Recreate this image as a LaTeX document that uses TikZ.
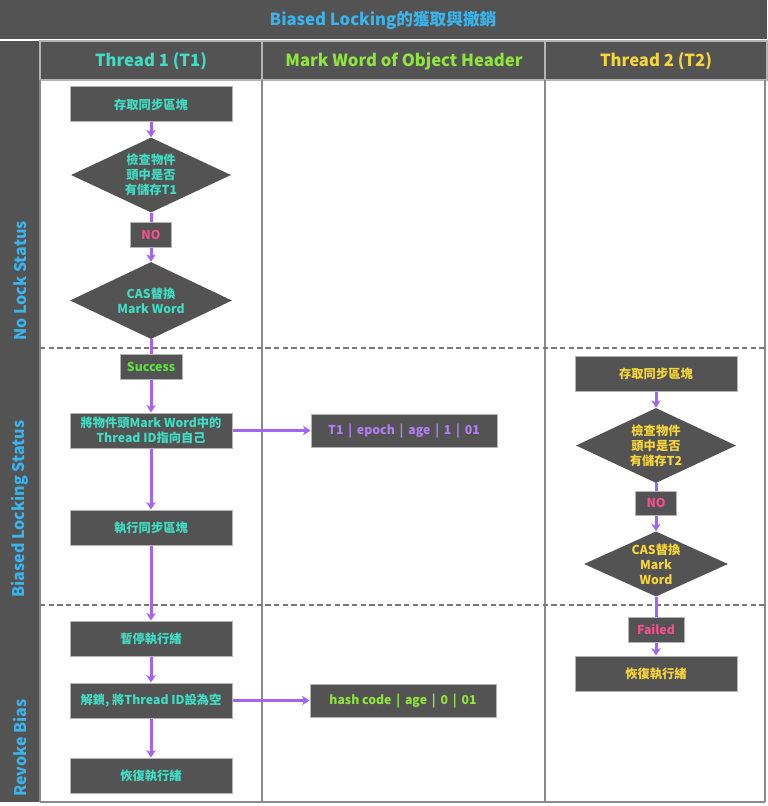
\documentclass[tikz,border=0pt]{standalone}
\usepackage{fontspec}
\setmainfont{Noto Sans CJK TC}
\usetikzlibrary{shapes.geometric,arrows.meta}
\definecolor{dk}{HTML}{535353}
\definecolor{boxline}{HTML}{B4B4B4}
\definecolor{laneline}{HTML}{8A8A8A}
\definecolor{dashc}{HTML}{777777}
\definecolor{titleblue}{HTML}{3AB4EC}
\definecolor{tone}{HTML}{40DCC4}
\definecolor{mwgreen}{HTML}{8EE53F}
\definecolor{ttwo}{HTML}{F6D43C}
\definecolor{nopink}{HTML}{F5508C}
\definecolor{succ}{HTML}{5CE040}
\definecolor{arrowc}{HTML}{A463F2}
\definecolor{mwpurple}{HTML}{B57CF5}
\begin{document}
\begin{tikzpicture}[x=0.75pt,y=-0.75pt,
  box/.style={draw=boxline, line width=0.75pt, fill=dk, minimum width=121.5pt, minimum height=26.25pt, inner sep=0pt, align=center, font=\fontsize{9.2}{11}\selectfont\bfseries},
  tag/.style={draw=boxline, line width=0.75pt, fill=dk, minimum height=18.75pt, inner sep=0pt, align=center, font=\fontsize{9.2}{11}\selectfont\bfseries},
  dia/.style={diamond, fill=dk, aspect=2, inner sep=0pt, align=center, font=\fontsize{9.2}{11.3}\selectfont\bfseries},
  mwbox/.style={draw=boxline, line width=0.75pt, fill=dk, minimum width=139.5pt, minimum height=24.75pt, inner sep=0pt, font=\fontsize{9.2}{11}\selectfont\bfseries},
  head/.style={font=\fontsize{12.5}{14}\selectfont\bfseries},
  lane/.style={rotate=90, text=titleblue, font=\fontsize{12}{14}\selectfont\bfseries},
  cell/.style={draw=boxline, line width=1.2pt, fill=dk},
  arr/.style={draw=arrowc, line width=2.25pt, -{Stealth[length=5.5pt,width=7pt,inset=1.5pt]}},
  ln/.style={draw=arrowc, line width=2.25pt},
  sep/.style={draw=dashc, line width=0.9pt, dash pattern=on 4pt off 2.5pt},
  vline/.style={draw=laneline, line width=1.3pt}
]
\useasboundingbox (0,0) rectangle (767,806);
% title
\fill[dk] (0,0) rectangle (767,39);
\node[text=titleblue, font=\fontsize{12.5}{14}\selectfont\bfseries] (title) at (383,20) {Biased Locking的獲取與撤銷};
% left column
\fill[dk] (0,41) rectangle (39,802);
% header cells
\draw[cell] (40,41) rectangle (262,80);
\draw[cell] (262,41) rectangle (545,80);
\draw[cell] (545,41) rectangle (767,80);
\node[head, text=tone] (h1) at (151,61) {Thread 1 (T1)};
\node[head, text=mwgreen] (h2) at (404,61) {Mark Word of Object Header};
\node[head, text=ttwo] (h3) at (656,61) {Thread 2 (T2)};
% lane lines
\draw[vline] (40,80) -- (40,802);
\draw[vline] (262,80) -- (262,802);
\draw[vline] (545,80) -- (545,802);
\draw[vline] (765,80) -- (765,802);
\draw[vline] (40,802) -- (765,802);
\draw[sep] (40,348) -- (767,348);
\draw[sep] (40,605) -- (767,605);
% lane labels
\node[lane] (l1) at (20,281) {No Lock Status};
\node[lane] (l2) at (20,509) {Biased Locking Status};
\node[lane] (l3) at (20,748) {Revoke Bias};
% Thread 1
\node[box, text=tone] (a1) at (151,104.5) {存取同步區塊};
\node[dia, text=tone, minimum width=120pt, minimum height=56.25pt] (d1) at (151,175) {檢查物件\\頭中是否\\有儲存T1};
\node[tag, text=nopink, minimum width=30.75pt] (no1) at (151,234.5) {NO};
\node[dia, text=tone, minimum width=121.5pt, minimum height=57.75pt] (d2) at (151,300.5) {CAS替換\\Mark Word};
\node[tag, text=succ, minimum width=46.5pt] (suc) at (151,366.5) {Success};
\node[box, text=tone] (b3) at (151,430.5) {將物件頭Mark Word中的\\Thread ID指向自己};
\node[box, text=tone] (b4) at (151,527.5) {執行同步區塊};
\node[box, text=tone] (b5) at (151,638.5) {暫停執行緒};
\node[box, text=tone] (b6) at (151,700.5) {解鎖, 將Thread ID設為空};
\node[box, text=tone] (b7) at (151,775.5) {恢復執行緒};
% Mark word
\node[mwbox, text=mwpurple] (mw1) at (404,430.5) {T1 \,|\, epoch \,|\, age \,|\, 1 \,|\, 01};
\node[mwbox, text=mwgreen] (mw2) at (403,700.5) {hash code \,|\, age \,|\, 0 \,|\, 01};
% Thread 2
\node[box, text=ttwo] (t1) at (656,373.5) {存取同步區塊};
\node[dia, text=ttwo, minimum width=120pt, minimum height=56.25pt] (td1) at (656,445.5) {檢查物件\\頭中是否\\有儲存T2};
\node[tag, text=nopink, minimum width=30.75pt, minimum height=18pt] (tno) at (656,503) {NO};
\node[dia, text=ttwo, minimum width=108pt, minimum height=46.5pt] (td2) at (656,564) {CAS替換\\Mark\\Word};
\node[tag, text=nopink, minimum width=42pt] (tfail) at (656,629.5) {Failed};
\node[box, text=ttwo] (tb) at (656,673.5) {恢復執行緒};
% connectors T1
\draw[arr] (a1) -- (d1);
\draw[ln] (d1) -- (no1);
\draw[arr] (no1) -- (d2);
\draw[ln] (d2) -- (suc);
\draw[arr] (suc) -- (b3);
\draw[arr] (b3) -- (b4);
\draw[arr] (b4) -- (b5);
\draw[arr] (b5) -- (b6);
\draw[arr] (b6) -- (b7);
\draw[arr] (b3) -- (mw1);
\draw[arr] (b6) -- (mw2);
% connectors T2
\draw[arr] (t1) -- (td1);
\draw[ln] (td1) -- (tno);
\draw[arr] (tno) -- (td2);
\draw[ln] (td2) -- (tfail);
\draw[arr] (tfail) -- (tb);
\end{tikzpicture}
\end{document}
